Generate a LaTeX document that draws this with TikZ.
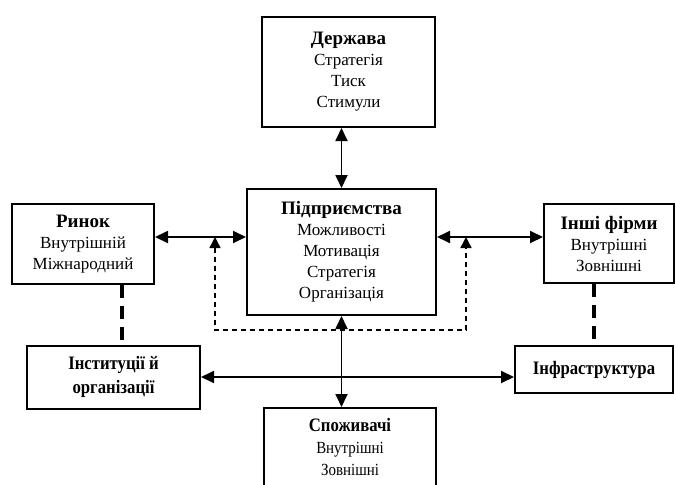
\documentclass[tikz,border=0pt]{standalone}
\usepackage{fontspec}
\setmainfont{Liberation Serif}
\newfontfamily\narrowfont[FakeStretch=0.88]{Liberation Serif}
\usetikzlibrary{arrows.meta,positioning,calc}

\newcommand{\ttl}[1]{{\fontsize{19}{21}\selectfont\bfseries #1}}

\begin{document}
\begin{tikzpicture}[
  x=1pt, y=1pt,
  box/.style={rectangle, draw, line width=2pt, align=center, inner sep=0pt, font=\fontsize{17}{21}\selectfont},
  narrow/.style={font=\narrowfont\fontsize{17}{22}\selectfont},
  edge/.style={{Triangle[length=13pt,width=12pt]}-{Triangle[length=13pt,width=12pt]}, line width=1.8pt},
  fback/.style={{Triangle[length=11pt,width=11pt]}-{Triangle[length=11pt,width=11pt]}, line width=1.4pt, dash pattern=on 5pt off 4pt},
  link/.style={line width=4pt, dash pattern=on 13pt off 8pt}
]
\useasboundingbox (0,0) rectangle (676,-484);

\node[box, minimum width=173pt, minimum height=110pt] (state) at (348.5,-72) {\ttl{Держава}\\Стратегія\\Тиск\\Стимули};
\node[box, minimum width=189pt, minimum height=126pt] (firm) at (341.5,-252) {\ttl{Підприємства}\\Можливості\\Мотивація\\Стратегія\\Організація};
\node[box, minimum width=142pt, minimum height=80pt] (market) at (83,-244) {\ttl{Ринок}\\Внутрішній\\Міжнародний};
\node[box, minimum width=130pt, minimum height=79pt] (others) at (609,-243.5) {\ttl{Інші фірми}\\Внутрішні\\Зовнішні};
\node[box, narrow, minimum width=173pt, minimum height=63pt] (inst) at (113.5,-377) {\ttl{Інституції й}\\[2pt]\ttl{організації}};
\node[box, narrow, minimum width=158pt, minimum height=47pt] (infra) at (594,-369.5) {\ttl{Інфраструктура}};
\node[box, narrow, minimum width=172pt, minimum height=78pt] (cons) at (350,-447) {\ttl{Споживачі}\\Внутрішні\\Зовнішні};

\coordinate (fbl) at (215,-237);
\coordinate (fbr) at (466,-237);
\coordinate (fbb) at (0,-330);

% solid links
\draw[edge] (firm.north |- state.south) -- (firm.north);
\draw[edge] ([yshift=7pt]market.east) -- ([yshift=7pt]market.east -| firm.west);
\draw[edge] ([yshift=6.5pt]others.west) -- ([yshift=6.5pt]others.west -| firm.east);
\draw[edge] (inst.east) -- (inst.east -| infra.west);
\draw[edge] (firm.south) -- (firm.south |- cons.north);

% feedback
\draw[fback] (fbl) |- (fbr |- fbb) -- (fbr);

% dashed ties
\draw[link] ([xshift=39pt]market.south) -- ([xshift=39pt]market.south |- inst.north);
\draw[link] (infra.north |- others.south) -- (infra.north);
\end{tikzpicture}
\end{document}
